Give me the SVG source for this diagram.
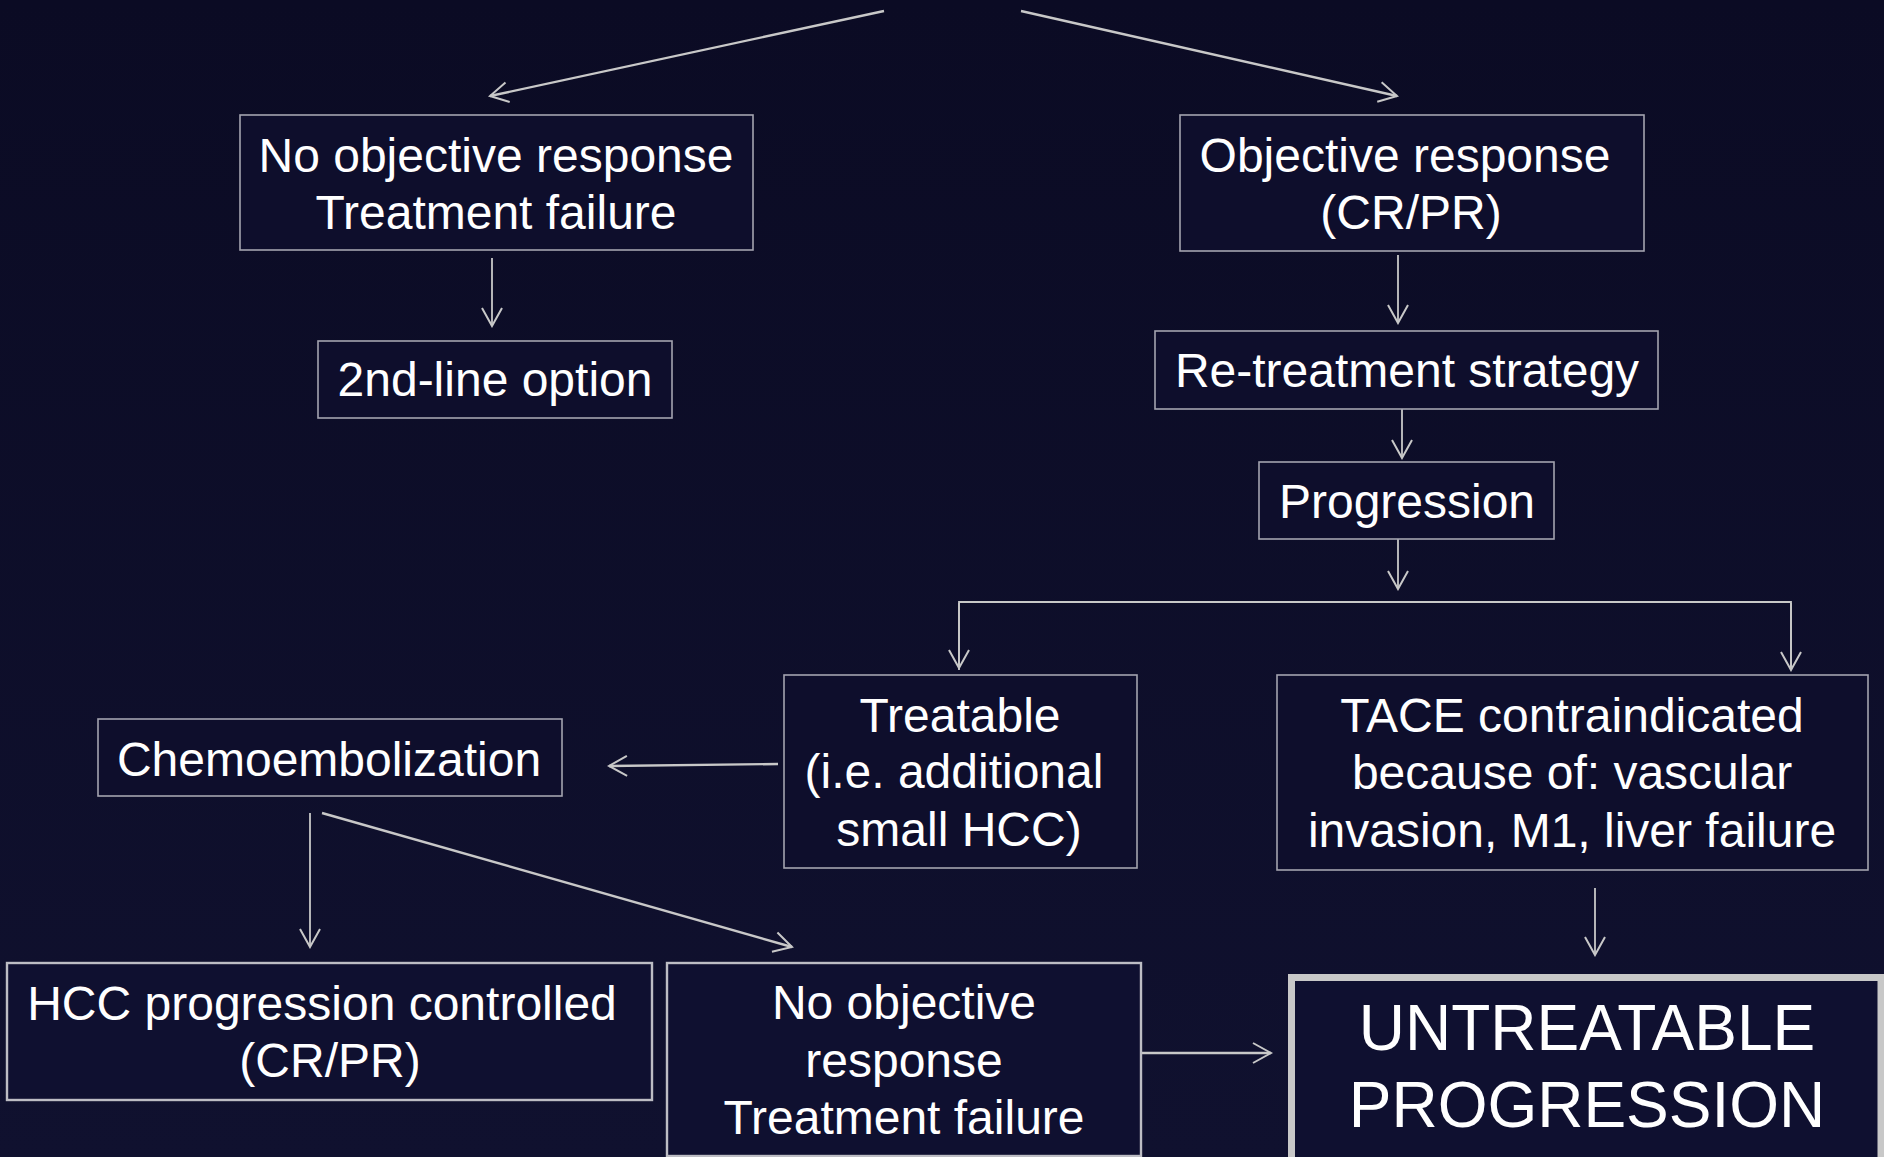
<svg xmlns="http://www.w3.org/2000/svg" width="1884" height="1157" viewBox="0 0 1884 1157">
  <defs>
    <linearGradient id="bg" x1="0" y1="0" x2="0" y2="1">
      <stop offset="0" stop-color="#0b0b24"/>
      <stop offset="1" stop-color="#10112f"/>
    </linearGradient>
    <marker id="ah" viewBox="-20 -12 22 24" refX="0" refY="0" markerWidth="22" markerHeight="24" markerUnits="userSpaceOnUse" orient="auto">
      <path d="M-18,-10 L0,0 L-18,10" fill="none" stroke="#c8c8c8" stroke-width="2"/>
    </marker>
    <style>
      .box { fill: #0e0e2c; stroke: #a4a4b0; stroke-width: 1.6; }
      .box2 { fill: #0f1030; stroke: #bdbdc4; stroke-width: 2.4; }
      .big { fill: #0f1030; stroke: #c8c8c8; stroke-width: 7; }
      .t { font-family: "Liberation Sans", Arial, sans-serif; font-size: 48px; fill: #ffffff; text-anchor: middle; }
      .tb { font-family: "Liberation Sans", Arial, sans-serif; font-size: 64px; fill: #ffffff; text-anchor: middle; }
      .c { fill: none; stroke: #c8c8c8; stroke-width: 1.8; marker-end: url(#ah); }
      .c2 { fill: none; stroke: #c8c8c8; stroke-width: 2.4; marker-end: url(#ah); }
      .cl { fill: none; stroke: #c8c8c8; stroke-width: 1.8; }
    </style>
  </defs>
  <rect x="0" y="0" width="1884" height="1157" fill="url(#bg)"/>

  <g id="connectors">
    <line class="c2" x1="884" y1="11" x2="490" y2="96"/>
    <line class="c2" x1="1021" y1="11" x2="1397" y2="96"/>
    <line class="c" x1="492" y1="258" x2="492" y2="326"/>
    <line class="c" x1="1398" y1="255" x2="1398" y2="323"/>
    <line class="c" x1="1402" y1="409" x2="1402" y2="458"/>
    <line class="c" x1="1398" y1="539" x2="1398" y2="589"/>
    <polyline class="cl" points="959,670 959,602 1791,602 1791,670"/>
    <line class="c" x1="959" y1="603" x2="959" y2="668"/>
    <line class="c" x1="1791" y1="603" x2="1791" y2="670"/>
    <line class="c2" x1="778" y1="764" x2="609" y2="766"/>
    <line class="c" x1="310" y1="813" x2="310" y2="947"/>
    <line class="c2" x1="322" y1="813" x2="792" y2="947"/>
    <line class="c" x1="1595" y1="888" x2="1595" y2="955"/>
    <line class="c2" x1="1141" y1="1053" x2="1271" y2="1053"/>
  </g>

  <g id="node-no-response-top">
    <rect class="box" x="240" y="115" width="513" height="135"/>
    <text class="t" x="496" y="172">No objective response</text>
    <text class="t" x="496" y="229">Treatment failure</text>
  </g>
  <g id="node-objective-response">
    <rect class="box" x="1180" y="115" width="464" height="136"/>
    <text class="t" x="1405" y="172">Objective response</text>
    <text class="t" x="1411" y="229">(CR/PR)</text>
  </g>
  <g id="node-2nd-line">
    <rect class="box" x="318" y="341" width="354" height="77"/>
    <text class="t" x="495" y="396">2nd-line option</text>
  </g>
  <g id="node-retreatment">
    <rect class="box" x="1155" y="331" width="503" height="78"/>
    <text class="t" x="1407" y="387">Re-treatment strategy</text>
  </g>
  <g id="node-progression">
    <rect class="box" x="1259" y="462" width="295" height="77"/>
    <text class="t" x="1407" y="518">Progression</text>
  </g>
  <g id="node-treatable">
    <rect class="box" x="784" y="675" width="353" height="193"/>
    <text class="t" x="960" y="732">Treatable</text>
    <text class="t" x="954" y="788">(i.e. additional</text>
    <text class="t" x="959" y="846">small HCC)</text>
  </g>
  <g id="node-tace-contraindicated">
    <rect class="box" x="1277" y="675" width="591" height="195"/>
    <text class="t" x="1572" y="732">TACE contraindicated</text>
    <text class="t" x="1572" y="789">because of: vascular</text>
    <text class="t" x="1572" y="847">invasion, M1, liver failure</text>
  </g>
  <g id="node-chemoembolization">
    <rect class="box" x="98" y="719" width="464" height="77"/>
    <text class="t" x="329" y="776">Chemoembolization</text>
  </g>
  <g id="node-hcc-controlled">
    <rect class="box2" x="7" y="963" width="645" height="137"/>
    <text class="t" x="322" y="1020">HCC progression controlled</text>
    <text class="t" x="330" y="1077">(CR/PR)</text>
  </g>
  <g id="node-no-response-bottom">
    <rect class="box2" x="667" y="963" width="474" height="193"/>
    <text class="t" x="904" y="1019">No objective</text>
    <text class="t" x="904" y="1077">response</text>
    <text class="t" x="904" y="1134">Treatment failure</text>
  </g>
  <g id="node-untreatable">
    <rect class="big" x="1291.5" y="977.5" width="589.5" height="200"/>
    <text class="tb" x="1587" y="1050">UNTREATABLE</text>
    <text class="tb" x="1587" y="1127">PROGRESSION</text>
  </g>
</svg>
